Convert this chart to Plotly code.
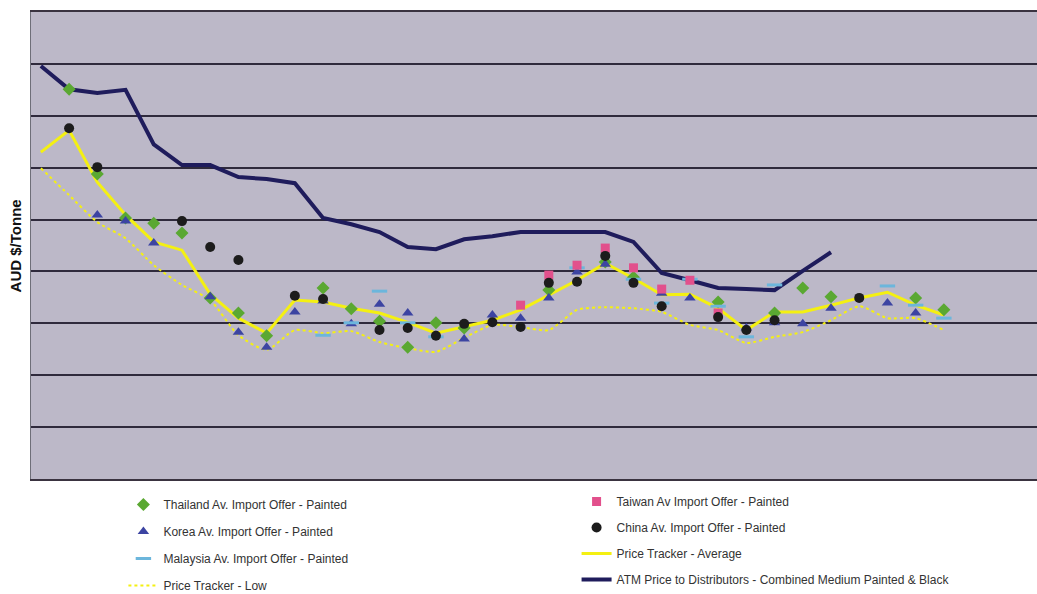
import plotly.graph_objects as go

# Monthly periods (index along the horizontal axis)
periods = list(range(33))

# ATM price to distributors (AUD $/tonne)
atm_x = list(range(29))
atm_price = [1196, 1151, 1144, 1150, 1045, 1005, 1005, 982, 978, 970, 903, 891, 876, 847,
             843, 862, 868, 876, 876, 876, 876, 857, 797, 783, 768, 766, 764, 801, 837]

# Price tracker
tracker_avg = [1030, 1072, 972, 909, 857, 841, 756, 710, 681, 745, 741, 729, 720, 702, 681,
               693, 706, 726, 755, 783, 816, 787, 755, 756, 729, 687, 722, 722, 735, 749,
               760, 735, 716]
tracker_low = [999, 947, 895, 864, 812, 774, 745, 677, 649, 687, 681, 685, 664, 652, 645,
               672, 697, 693, 687, 726, 731, 729, 722, 697, 687, 662, 674, 683, 706, 733,
               710, 710, 687]

# Import offers by origin
thai_x = [1, 2, 3, 4, 5, 6, 7, 8, 10, 11, 12, 13, 14, 15, 18, 20, 21, 24, 26, 27, 28, 31, 32]
thai_y = [1151, 988, 903, 893, 874, 749, 720, 676, 768, 728, 704, 654, 701, 691, 764, 818,
          789, 741, 720, 768, 751, 749, 726]

korea_x = [2, 3, 4, 6, 7, 8, 9, 10, 11, 12, 13, 14, 15, 16, 17, 18, 19, 20, 22, 23, 25, 26,
           27, 28, 30, 31]
korea_y = [909, 897, 855, 751, 683, 654, 722, 743, 699, 737, 720, 677, 670, 716, 710, 749,
           799, 814, 758, 749, 691, 701, 699, 729, 739, 720]

malaysia_x = [10, 11, 12, 13, 14, 19, 21, 22, 23, 24, 25, 26, 30, 31, 32]
malaysia_y = [677, 701, 762, 701, 674, 807, 785, 739, 785, 733, 674, 774, 772, 735, 710]

taiwan_x = [17, 18, 19, 20, 21, 22, 23, 24]
taiwan_y = [735, 793, 812, 845, 807, 766, 783, 720]

china_x = [1, 2, 5, 6, 7, 9, 10, 12, 13, 14, 15, 16, 17, 18, 19, 20, 21, 22, 24, 25, 26, 29]
china_y = [1076, 1001, 897, 847, 822, 753, 747, 687, 691, 676, 699, 702, 693, 778, 780, 830,
           778, 733, 712, 687, 706, 749]

GREEN = "#5aa832"
BLUE = "#3c44a2"
LIGHTBLUE = "#6cb6dc"
PINK = "#e2508c"
BLACK = "#1c1c1c"
YELLOW = "#f4f012"
NAVY = "#1f1c5c"

fig = go.Figure()

# Lines first so that markers sit on top
fig.add_trace(go.Scatter(
    x=periods, y=tracker_low, mode="lines", name="Price Tracker - Low",
    line=dict(color=YELLOW, width=2, dash="dot", shape="spline", smoothing=0.6),
    legend="legend", legendgroup="low", legendrank=4))
fig.add_trace(go.Scatter(
    x=periods, y=tracker_avg, mode="lines", name="Price Tracker - Average",
    line=dict(color=YELLOW, width=3),
    legend="legend2", legendgroup="avg", legendrank=3))
fig.add_trace(go.Scatter(
    x=atm_x, y=atm_price, mode="lines",
    name="ATM Price to Distributors - Combined Medium Painted & Black",
    line=dict(color=NAVY, width=4),
    legend="legend2", legendgroup="atm", legendrank=4))

fig.add_trace(go.Scatter(
    x=thai_x, y=thai_y, mode="markers", name="Thailand Av. Import Offer - Painted",
    marker=dict(symbol="diamond", size=10, color=GREEN),
    legend="legend", legendgroup="thai", legendrank=1))
fig.add_trace(go.Scatter(
    x=korea_x, y=korea_y, mode="markers", name="Korea Av. Import Offer - Painted",
    marker=dict(symbol="triangle-up", size=10, color=BLUE),
    legend="legend", legendgroup="korea", legendrank=2))
fig.add_trace(go.Scatter(
    x=malaysia_x, y=malaysia_y, mode="markers", name="Malaysia Av. Import Offer - Painted",
    marker=dict(symbol="line-ew", size=11, color=LIGHTBLUE,
                line=dict(color=LIGHTBLUE, width=3)),
    legend="legend", legendgroup="malaysia", legendrank=3))
fig.add_trace(go.Scatter(
    x=taiwan_x, y=taiwan_y, mode="markers", name="Taiwan Av Import Offer - Painted",
    marker=dict(symbol="square", size=9, color=PINK),
    legend="legend2", legendgroup="taiwan", legendrank=1))
fig.add_trace(go.Scatter(
    x=china_x, y=china_y, mode="markers", name="China Av. Import Offer - Painted",
    marker=dict(symbol="circle", size=10, color=BLACK),
    legend="legend2", legendgroup="china", legendrank=2))

legend_font = dict(family="Liberation Sans, Arial, sans-serif", size=12, color="#333333")

fig.update_layout(
    width=1037, height=594,
    margin=dict(l=31, r=0, t=12, b=115, autoexpand=False),
    paper_bgcolor="white",
    plot_bgcolor="#bcb8c8",
    font=dict(family="Liberation Sans, Arial, sans-serif", color="#222222"),
    showlegend=True,
    legend=dict(xref="container", yref="container", x=0.119, y=0.175,
                xanchor="left", yanchor="top", bgcolor="rgba(0,0,0,0)",
                font=legend_font, tracegroupgap=8, traceorder="grouped"),
    legend2=dict(xref="container", yref="container", x=0.556, y=0.18,
                 xanchor="left", yanchor="top", bgcolor="rgba(0,0,0,0)",
                 font=legend_font, tracegroupgap=7, traceorder="grouped"),
    xaxis=dict(range=[-0.35, 35.3], showgrid=False, zeroline=False, showticklabels=False,
               ticks="", showline=True, mirror=True, linecolor="#3a3340", linewidth=1.5),
    yaxis=dict(range=[400, 1300], dtick=100, showgrid=True, gridcolor="#2f2a3c",
               gridwidth=1.5, zeroline=False, showticklabels=False, ticks="",
               showline=True, linecolor="#6e6e78", linewidth=1),
    annotations=[dict(
        text="<b>AUD $/Tonne</b>", xref="paper", yref="paper", x=-0.015, y=0.5,
        xanchor="center", yanchor="middle", textangle=-90, showarrow=False,
        font=dict(family="Liberation Sans, Arial, sans-serif", size=15, color="#111111"))],
)

fig.write_html("out.html")
